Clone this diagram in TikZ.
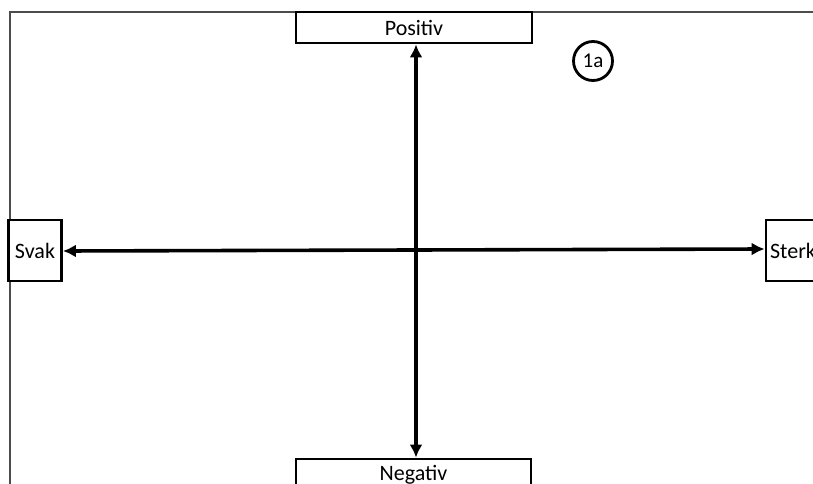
\documentclass[tikz,border=0pt]{standalone}
\usepackage{fontspec}
\setmainfont{Carlito}
\usetikzlibrary{arrows.meta}
\begin{document}
\begin{tikzpicture}[x=1pt,y=-1pt,
  lbl/.style={draw=black,line width=2.8pt,fill=white,inner sep=0pt,font=\fontsize{22}{26}\selectfont},
  axis/.style={line width=3.6pt,{Latex[length=13pt,width=13pt]}-{Latex[length=13pt,width=13pt]}},
  frame/.style={draw=black!70,line width=1.3pt}]
\useasboundingbox (0,0) rectangle (813,484);
\clip (0,0) rectangle (813,484);
\fill[white] (0,0) rectangle (813,484);
\draw[frame] (10,484) -- (10,12) -- (813,12);
\node[lbl,minimum width=236pt,minimum height=31pt] (pos) at (414,27.5) {Positiv};
\node[lbl,minimum width=235pt,minimum height=31pt] (neg) at (413.5,474.5) {Negativ};
\node[lbl,minimum width=53pt,minimum height=61pt] (svak) at (35,250.5) {Svak};
\node[lbl,minimum width=54pt,minimum height=61pt] (sterk) at (793,250.5) {Sterk};
\node[draw=black,line width=2.8pt,circle,minimum size=39pt,inner sep=0pt,font=\fontsize{21}{25}\selectfont] (c1a) at (593,61) {1a};
\draw[axis] (pos.south -| 416,0) -- (neg.north -| 416,0);
\draw[axis] (svak.east |- 0,251) -- (sterk.west |- 0,249);
\end{tikzpicture}
\end{document}
